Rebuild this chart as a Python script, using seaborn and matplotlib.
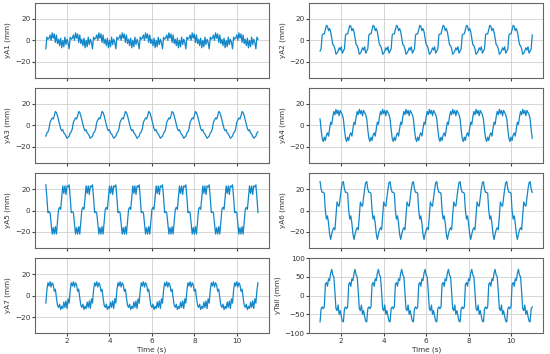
import numpy as np
import pandas as pd
import matplotlib
matplotlib.use("Agg")
import matplotlib.pyplot as plt
import seaborn as sns

# time axis: 1 s to 11 s, sampled every 0.05 s
t_start, t_end, dt = 1.0, 11.0, 0.05
time = np.round(np.arange(t_start, t_end + dt / 2, dt), 3)

# one period (~1.1 s, 22 samples) of each signal;
# the signals are periodic so the read cycle is repeated along the time axis
yA1_cycle = [-8, 3, 1, 2, 5, 0, 7, 2, 6, -2, 5, -3, 1, -5, 2, -7, 0, -6, 3, -4, 1, -2]
yA2_cycle = [-10, -8, 5, 6, 6, 10, 14, 13, 9, 11, 8, 2, -4, -5, -8, -13, -12, -10, -7, -9, -6, -12]
yA3_cycle = [-10, -7, -6, -3, 3, 5, 7, 6, 9, 13, 12, 9, 5, 1, -3, -5, -4, -7, -8, -10, -12, -11]
yA4_cycle = [6, -4, -12, -15, -11, -14, -9, -7, -10, -3, 3, 1, 8, 13, 10, 15, 11, 14, 9, 14, 12, 10]
yA5_cycle = [24, 12, -2, -1, -2, -12, -22, -16, -22, -15, -22, -10, 1, 3, 1, 12, 23, 16, 23, 15, 23, 22]
yA6_cycle = [27, 20, 17, 17, 16, 0, -8, -5, -12, -22, -27, -22, -18, -16, -18, -5, 8, 5, 4, 12, 20, 26]
yA7_cycle = [-7, 5, 12, 9, 13, 8, 12, 10, 4, 6, -2, -9, -11, -8, -13, -10, -12, -6, -11, -5, -12, -3]
yTail_cycle = [-70, -35, -30, -35, -30, 30, 35, 25, 45, 40, 60, 70, 55, 50, 10, -35, -40, -25, -50, -40, -55, -68]

labels = ["yA1 (mm)", "yA2 (mm)", "yA3 (mm)", "yA4 (mm)",
          "yA5 (mm)", "yA6 (mm)", "yA7 (mm)", "yTail (mm)"]
cycles = [yA1_cycle, yA2_cycle, yA3_cycle, yA4_cycle,
          yA5_cycle, yA6_cycle, yA7_cycle, yTail_cycle]

LINE = "#1287c9"

plt.rcParams.update({
    "font.family": "DejaVu Sans",
    "font.size": 5.2,
    "axes.edgecolor": "#666666",
    "axes.linewidth": 0.8,
    "xtick.color": "#444444",
    "ytick.color": "#444444",
    "xtick.labelcolor": "#333333",
    "ytick.labelcolor": "#333333",
    "xtick.labelsize": 5.2,
    "ytick.labelsize": 5.2,
    "axes.labelsize": 5.2,
    "axes.labelcolor": "#333333",
    "xtick.major.size": 2,
    "ytick.major.size": 2,
    "xtick.major.pad": 1.5,
    "ytick.major.pad": 1.5,
})

fig, axes = plt.subplots(4, 2, figsize=(5.5, 3.54), dpi=100, sharex=True)
fig.subplots_adjust(left=0.064, right=0.987, top=0.992, bottom=0.059,
                    hspace=0.135, wspace=0.175)

for i, (lab, cyc) in enumerate(zip(labels, cycles)):
    ax = axes[i // 2, i % 2]
    values = np.tile(cyc, len(time) // len(cyc) + 1)[:len(time)]
    df = pd.DataFrame({"Time (s)": time, lab: values})
    sns.lineplot(data=df, x="Time (s)", y=lab, ax=ax, color=LINE, linewidth=0.9)
    ax.grid(True, color="#d0d0d0", linewidth=0.6)
    ax.set_axisbelow(True)
    if lab == "yTail (mm)":
        ax.set_ylim(-100, 100)
        ax.set_yticks([-100, -50, 0, 50, 100])
    else:
        ax.set_ylim(-35, 35)
        ax.set_yticks([-20, 0, 20])
    ax.set_xlim(0.5, 11.5)
    ax.set_xticks([2, 4, 6, 8, 10])
    ax.yaxis.labelpad = 2.5
    if i < 6:
        ax.set_xlabel("")
    else:
        ax.xaxis.labelpad = 1.5

fig.savefig("out.png", dpi=100)
